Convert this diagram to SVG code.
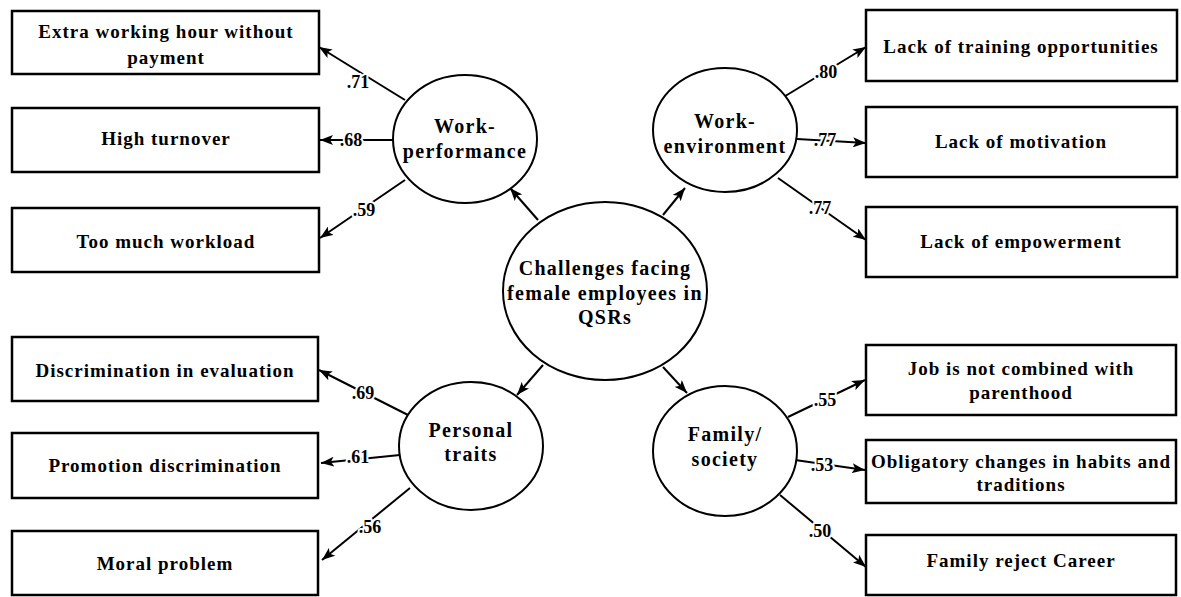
<svg xmlns="http://www.w3.org/2000/svg" width="1181" height="597" viewBox="0 0 1181 597">
  <style>
    .box { fill: #fff; stroke: #000; stroke-width: 2.5; }
    .node { fill: #fff; stroke: #000; stroke-width: 2; }
    .t { font-family: "Liberation Serif", "Times New Roman", serif; font-weight: bold; font-size: 19px; letter-spacing: 1px; fill: #000; text-anchor: middle; }
    .c { font-family: "Liberation Serif", "Times New Roman", serif; font-weight: bold; font-size: 20px; letter-spacing: 1.3px; fill: #000; text-anchor: middle; }
    .edge { stroke: #000; stroke-width: 2; fill: none; marker-end: url(#arrow); }
    .w { font-family: "Liberation Serif", "Times New Roman", serif; font-weight: bold; font-size: 18px; fill: #000; text-anchor: middle; stroke: #fff; stroke-width: 4px; paint-order: stroke; stroke-linejoin: round; }
  </style>
  <defs>
    <marker id="arrow" markerUnits="userSpaceOnUse" markerWidth="14" markerHeight="10" refX="13" refY="5" orient="auto">
      <path d="M0,0 L13,5 L0,10 L3,5 z" fill="#000"/>
    </marker>
  </defs>
  <rect width="1181" height="597" fill="#fff"/>

  <!-- connectors -->
  <g id="connectors">
    <line class="edge" x1="538" y1="220" x2="510" y2="188"/>
    <line class="edge" x1="663" y1="215" x2="685" y2="188"/>
    <line class="edge" x1="543" y1="365" x2="517" y2="395"/>
    <line class="edge" x1="663" y1="367" x2="687" y2="393"/>

    <line class="edge" x1="405" y1="100" x2="319" y2="47"/>
    <line class="edge" x1="393" y1="140" x2="320" y2="140"/>
    <line class="edge" x1="405" y1="180" x2="320" y2="238"/>

    <line class="edge" x1="408" y1="415" x2="319" y2="370"/>
    <line class="edge" x1="400" y1="455" x2="321" y2="463"/>
    <line class="edge" x1="410" y1="488" x2="322" y2="560"/>

    <line class="edge" x1="782" y1="98" x2="866" y2="47"/>
    <line class="edge" x1="797" y1="139" x2="866" y2="143"/>
    <line class="edge" x1="778" y1="178" x2="866" y2="240"/>

    <line class="edge" x1="788" y1="417" x2="865" y2="380"/>
    <line class="edge" x1="795" y1="460" x2="865" y2="470"/>
    <line class="edge" x1="780" y1="495" x2="866" y2="567"/>

    <text class="w" x="358" y="88">.71</text>
    <text class="w" x="351" y="146">.68</text>
    <text class="w" x="364" y="216">.59</text>
    <text class="w" x="363" y="399">.69</text>
    <text class="w" x="358" y="463">.61</text>
    <text class="w" x="370" y="533">.56</text>
    <text class="w" x="826" y="78">.80</text>
    <text class="w" x="825" y="146">.77</text>
    <text class="w" x="820" y="214">.77</text>
    <text class="w" x="825" y="406">.55</text>
    <text class="w" x="822" y="471">.53</text>
    <text class="w" x="820" y="537">.50</text>
  </g>

  <!-- latent factors -->
  <g id="challenges">
    <ellipse class="node" cx="605" cy="291" rx="102" ry="89"/>
    <text class="c" x="605" y="275">Challenges facing</text>
    <text class="c" x="605" y="300">female employees in</text>
    <text class="c" x="605" y="324">QSRs</text>
  </g>
  <g id="work-performance">
    <ellipse class="node" cx="465" cy="139" rx="72" ry="64"/>
    <text class="c" x="465" y="133">Work-</text>
    <text class="c" x="465" y="158">performance</text>
  </g>
  <g id="work-environment">
    <ellipse class="node" cx="725" cy="130" rx="72" ry="62"/>
    <text class="c" x="725" y="128">Work-</text>
    <text class="c" x="725" y="153">environment</text>
  </g>
  <g id="personal-traits">
    <ellipse class="node" cx="471" cy="446" rx="72" ry="64"/>
    <text class="c" x="471" y="437">Personal</text>
    <text class="c" x="471" y="461">traits</text>
  </g>
  <g id="family-society">
    <ellipse class="node" cx="725" cy="451" rx="72" ry="65"/>
    <text class="c" x="725" y="441">Family/</text>
    <text class="c" x="725" y="466">society</text>
  </g>

  <!-- observed indicators -->
  <g id="extra-hours">
    <rect class="box" x="12" y="11" width="307" height="63"/>
    <text class="t" x="166" y="38">Extra working hour without</text>
    <text class="t" x="166" y="64">payment</text>
  </g>
  <g id="high-turnover">
    <rect class="box" x="12" y="108" width="307" height="64"/>
    <text class="t" x="166" y="145">High turnover</text>
  </g>
  <g id="workload">
    <rect class="box" x="12" y="208" width="307" height="64"/>
    <text class="t" x="166" y="248">Too much workload</text>
  </g>
  <g id="discrimination-evaluation">
    <rect class="box" x="12" y="337" width="306" height="64"/>
    <text class="t" x="165" y="377">Discrimination in evaluation</text>
  </g>
  <g id="promotion-discrimination">
    <rect class="box" x="12" y="433" width="306" height="65"/>
    <text class="t" x="165" y="472">Promotion discrimination</text>
  </g>
  <g id="moral-problem">
    <rect class="box" x="12" y="531" width="306" height="64"/>
    <text class="t" x="165" y="570">Moral problem</text>
  </g>
  <g id="training">
    <rect class="box" x="866" y="10" width="311" height="71"/>
    <text class="t" x="1021" y="53">Lack of training opportunities</text>
  </g>
  <g id="motivation">
    <rect class="box" x="866" y="107" width="311" height="70"/>
    <text class="t" x="1021" y="148">Lack of motivation</text>
  </g>
  <g id="empowerment">
    <rect class="box" x="866" y="207" width="311" height="70"/>
    <text class="t" x="1021" y="248">Lack of empowerment</text>
  </g>
  <g id="parenthood">
    <rect class="box" x="866" y="345" width="310" height="70"/>
    <text class="t" x="1021" y="375">Job is not combined with</text>
    <text class="t" x="1021" y="399">parenthood</text>
  </g>
  <g id="habits">
    <rect class="box" x="866" y="440" width="310" height="63"/>
    <text class="t" x="1021" y="468">Obligatory changes in habits and</text>
    <text class="t" x="1021" y="491">traditions</text>
  </g>
  <g id="family-reject">
    <rect class="box" x="866" y="535" width="310" height="60"/>
    <text class="t" x="1021" y="567">Family reject Career</text>
  </g>
</svg>
